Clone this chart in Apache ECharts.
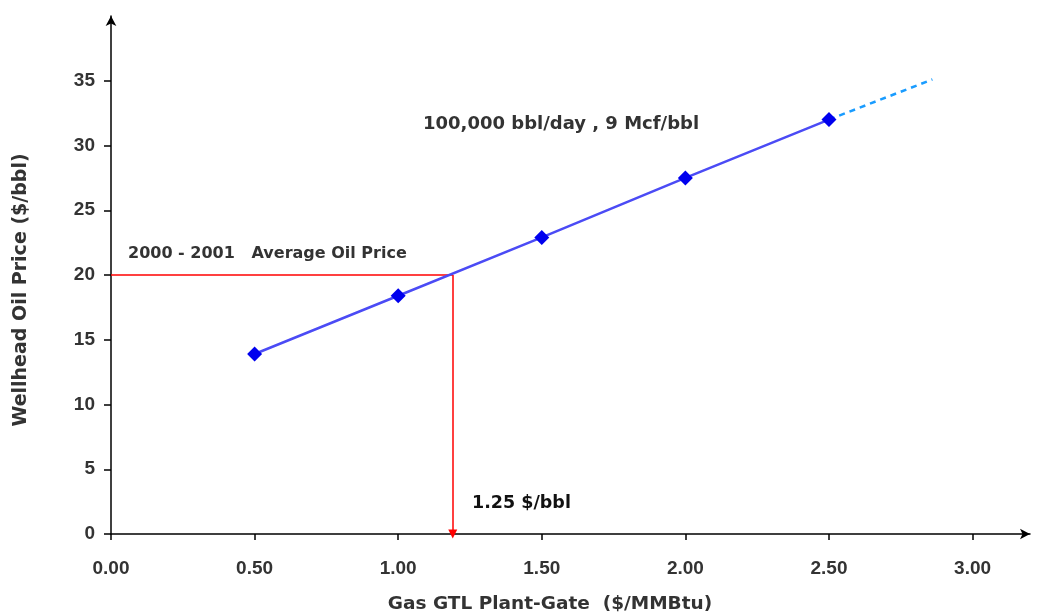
<!DOCTYPE html>
<html>
<head>
<meta charset="utf-8">
<script src="https://cdn.jsdelivr.net/npm/echarts@6/dist/echarts.min.js"></script>
<style>html,body{margin:0;padding:0;background:#fff}#c{width:1037px;height:615px}</style>
</head>
<body>
<div id="c"></div>
<script>
// Data
const gasPrice = [0.5, 1.0, 1.5, 2.0, 2.5];
const oilPrice = [13.9, 18.4, 22.9, 27.5, 32.0];
const extGas = [2.5, 2.86];
const extOil = [32.0, 35.1];
const avgOilPrice = 20;
const breakEvenGas = 1.19;
const xTicks = [0, 0.5, 1.0, 1.5, 2.0, 2.5, 3.0];
const yTicks = [0, 5, 10, 15, 20, 25, 30, 35];
const xAxisTitle = 'Gas GTL Plant-Gate  ($/MMBtu)';
const yAxisTitle = 'Wellhead Oil Price ($/bbl)';
const noteCase = '100,000 bbl/day , 9 Mcf/bbl';
const noteAvg = '2000 - 2001   Average Oil Price';
const noteBreak = '1.25 $/bbl';

const font = '"DejaVu Sans", Verdana, sans-serif';
const tickFont = '"Liberation Sans", Arial, sans-serif';
const chart = echarts.init(document.getElementById('c'));
chart.setOption({
  animation: false,
  backgroundColor: '#fff',
  grid: {left: 111, top: 16, right: 7, bottom: 81, containLabel: false},
  xAxis: {
    type: 'value', min: 0, max: 3.2,
    splitLine: {show: false},
    axisLine: {show: true, onZero: false, lineStyle: {color: '#000', width: 1.5}, symbol: ['none', 'arrow'], symbolSize: [8, 10]},
    axisTick: {show: true, customValues: xTicks, length: 6, lineStyle: {color: '#000', width: 1.5}},
    axisLabel: {customValues: xTicks, margin: 25, color: '#333', fontFamily: tickFont, fontWeight: 'bold', fontSize: 19,
      formatter: v => v.toFixed(2)}
  },
  yAxis: {
    type: 'value', min: 0, max: 40,
    splitLine: {show: false},
    axisLine: {show: true, onZero: false, lineStyle: {color: '#000', width: 1.5}, symbol: ['none', 'arrow'], symbolSize: [8, 10]},
    axisTick: {show: true, customValues: yTicks, length: 7, lineStyle: {color: '#000', width: 1.5}},
    axisLabel: {customValues: yTicks, margin: 16, color: '#333', fontFamily: tickFont, fontWeight: 'bold', fontSize: 19}
  },
  series: [
    {
      type: 'line',
      data: gasPrice.map((g, i) => [g, oilPrice[i]]),
      symbol: 'diamond', symbolSize: 15,
      itemStyle: {color: '#0000ee'},
      lineStyle: {color: '#4b4bf5', width: 2.5},
      z: 5,
      markLine: {
        silent: true,
        animation: false,
        label: {show: false},
        data: [
          [{coord: [0, avgOilPrice], symbol: 'none'}, {coord: [breakEvenGas, avgOilPrice], symbol: 'none'}],
          [{coord: [breakEvenGas, avgOilPrice], symbol: 'none'}, {coord: [breakEvenGas, 0], symbol: 'triangle', symbolSize: [9, 9], symbolRotate: 180}]
        ],
        lineStyle: {color: '#ff0000', width: 1.5, type: 'solid'}
      }
    },
    {
      type: 'line',
      data: extGas.map((g, i) => [g, extOil[i]]),
      symbol: 'none',
      lineStyle: {color: '#1a9cff', width: 2.5, type: [6, 5]},
      z: 4
    }
  ],
  graphic: [
    {type: 'text', left: 423, top: 115, style: {text: noteCase, font: 'bold 18px ' + font, fill: '#333'}},
    {type: 'text', left: 128, top: 246, style: {text: noteAvg, font: 'bold 16px ' + font, fill: '#333'}},
    {type: 'text', left: 472, top: 494, style: {text: noteBreak, font: 'bold 17.5px ' + font, fill: '#111'}},
    {type: 'text', x: 550, y: 604, style: {text: xAxisTitle, font: 'bold 18.5px ' + font, fill: '#333', align: 'center', verticalAlign: 'middle'}},
    {type: 'text', x: 21, y: 290, rotation: Math.PI / 2, style: {text: yAxisTitle, font: 'bold 19px ' + font, fill: '#333', align: 'center', verticalAlign: 'middle'}}
  ]
});
</script>
</body>
</html>
